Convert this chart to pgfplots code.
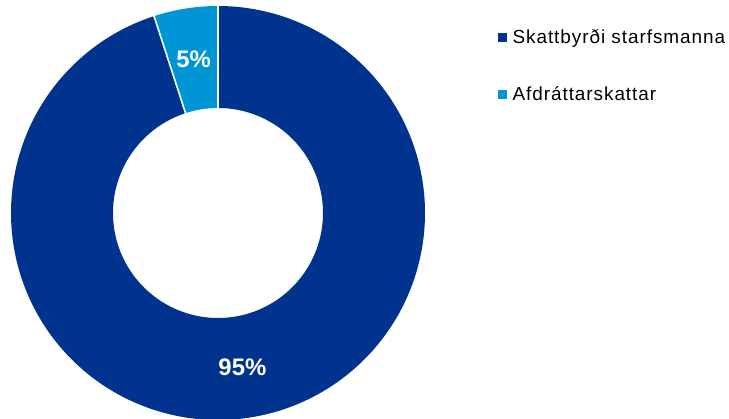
\documentclass[border=0pt]{standalone}
\usepackage{pgfplots}
\usepackage{pgfplotstable}
\usepackage{fontspec}
\setmainfont{Liberation Sans}
\newfontfamily\legfont[LetterSpace=5]{Liberation Sans}
\pgfplotsset{compat=1.18}
\definecolor{darkblue}{RGB}{0,51,141}
\definecolor{lightblue}{RGB}{0,150,214}
\pgfplotstableread[col sep=comma]{
label,value
Skattbyrdi,95
Afdrattarskattar,5
}\shares
\begin{document}%
\begin{tikzpicture}
\pgfplotstablegetelem{0}{value}\of\shares \pgfmathsetmacro\va{\pgfplotsretval}
\pgfplotstablegetelem{1}{value}\of\shares \pgfmathsetmacro\vb{\pgfplotsretval}
\pgfmathsetmacro\total{\va+\vb}
\pgfmathsetmacro\angA{\va/\total*360}
\pgfmathsetmacro\midA{\angA/2}
\pgfmathsetmacro\midB{(\angA+360)/2}
\def\cx{218}\def\cy{206}\def\rin{105}\def\rout{207}\def\rmid{156}
\pgfmathsetmacro\lax{\cx+\rmid*sin(\midA)}
\pgfmathsetmacro\lay{\cy+\rmid*cos(\midA)}
\pgfmathsetmacro\lbx{\cx+\rmid*sin(\midB)}
\pgfmathsetmacro\lby{\cy+\rmid*cos(\midB)}
\begin{axis}[name=ax,
  scale only axis, width=729bp, height=419bp,
  xmin=0, xmax=729, ymin=0, ymax=419,
  hide axis, ticks=none,
  legend style={at={(axis cs:495,394)}, anchor=north west, draw=none, fill=none,
    font=\legfont\fontsize{19}{23}\selectfont, row sep=38bp,
    nodes={inner sep=2bp}},
  legend cell align=left,
]
\addplot[forget plot, darkblue, line width=102bp, domain=0:\angA, samples=300] ({\cx+\rmid*sin(x)}, {\cy+\rmid*cos(x)});
\addplot[forget plot, lightblue, line width=102bp, domain=\angA:360, samples=40] ({\cx+\rmid*sin(x)}, {\cy+\rmid*cos(x)});
\addplot[forget plot, white, line width=1.6bp, domain=\rin-1:\rout+1, samples=2] ({\cx+x*sin(\angA)}, {\cy+x*cos(\angA)});
\addplot[forget plot, white, line width=1.6bp, domain=\rin-1:\rout+1, samples=2] ({\cx+x*sin(0)}, {\cy+x*cos(0)});
\node[text=white, font=\fontsize{24}{28}\selectfont\bfseries] at (axis cs:\lax,\lay) {95\%};
\node[text=white, font=\fontsize{24}{28}\selectfont\bfseries] at (axis cs:\lbx,\lby) {5\%};
\addlegendimage{legend image code/.code={\fill[darkblue] (0bp,-4bp) rectangle (8bp,4bp); \path (12bp,0bp);}}
\addlegendentry{Skattbyrði starfsmanna}
\addlegendimage{legend image code/.code={\fill[lightblue] (0bp,-4bp) rectangle (8bp,4bp); \path (12bp,0bp);}}
\addlegendentry{Afdráttarskattar}
\end{axis}
\pgfresetboundingbox
\useasboundingbox (ax.south west) rectangle (ax.north east);
\end{tikzpicture}%
\end{document}
